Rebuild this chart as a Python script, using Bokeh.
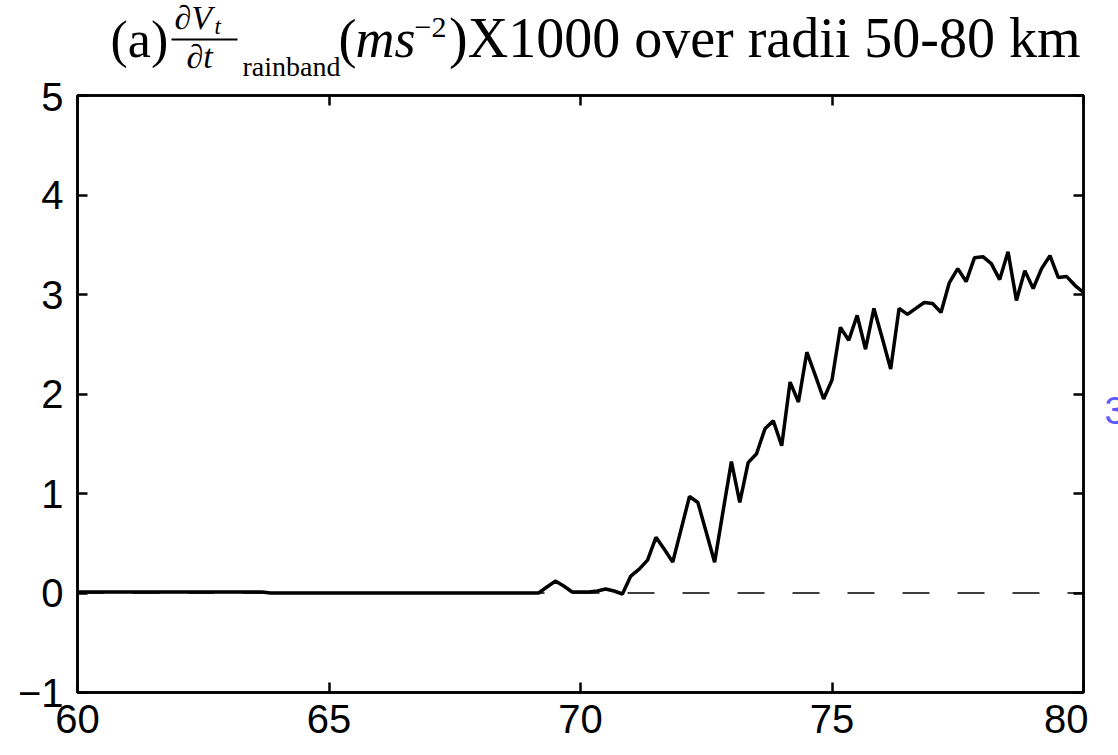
from bokeh.plotting import figure
from bokeh.layouts import column, row
from bokeh.models import Range1d, LinearAxis, FixedTicker, Span
from bokeh.core.properties import value
from bokeh.embed import file_html
from bokeh.resources import INLINE
import numpy as np

# ---- data -------------------------------------------------------------
x_ticks = [60, 65, 70, 75, 80]
y_ticks = [-1, 0, 1, 2, 3, 4, 5]
# time (h), sampled every 10 minutes from 60 to 80
time_h = np.linspace(60, 80, 121)
# dVt/dt (rainband) x1000, m s^-2
dvdt = [
    0.01, 0.01, 0.01, 0.01, 0.01, 0.01, 0.01, 0.01, 0.01, 0.01, 0.01, 0.01,
    0.01, 0.01, 0.01, 0.01, 0.01, 0.01, 0.01, 0.01, 0.01, 0.01, 0.01,
    0.0, 0.0, 0.0, 0.0, 0.0, 0.0, 0.0, 0.0, 0.0, 0.0, 0.0, 0.0, 0.0, 0.0,
    0.0, 0.0, 0.0, 0.0, 0.0, 0.0, 0.0, 0.0, 0.0, 0.0, 0.0, 0.0, 0.0, 0.0,
    0.0, 0.0, 0.0,
    0.0, 0.0, 0.06, 0.12, 0.07, 0.01, 0.01, 0.01, 0.02, 0.04, 0.02, -0.01,
    0.17, 0.24, 0.33, 0.56, 0.44, 0.31, 0.64, 0.97, 0.91, 0.61, 0.31, 0.82,
    1.32, 0.91, 1.31, 1.40, 1.65, 1.73, 1.48, 2.12, 1.92, 2.42, 2.19, 1.95,
    2.14, 2.67, 2.54, 2.79, 2.45, 2.86, 2.56, 2.25, 2.86, 2.80, 2.86, 2.92,
    2.91, 2.82, 3.12, 3.26, 3.13, 3.37, 3.38, 3.31, 3.15, 3.43, 2.94, 3.24,
    3.06, 3.26, 3.39, 3.17, 3.18, 3.09, 3.02,
]

# ---- layout numbers (pixels) -----------------------------------------
W = 1118
TITLE_H = 82
TOP_B = 13
BOT_B = 56
FL, FW, FH = 77, 1006, 597
RB = 5                    # right border of main figure
SIDE_W = W - FL - FW - RB

TICK_FONT = "Liberation Sans"
TICK_SIZE = "40px"

# ---- main plot --------------------------------------------------------
p = figure(frame_width=FW, frame_height=FH, title=None,
           x_range=Range1d(60, 80), y_range=Range1d(-1, 5),
           output_backend="svg", toolbar_location=None,
           min_border_left=FL, min_border_top=TOP_B, min_border_right=RB,
           min_border_bottom=BOT_B)
p.xgrid.visible = False
p.ygrid.visible = False
p.outline_line_color = "black"
p.outline_line_width = 2.5

p.add_layout(LinearAxis(), "above")
p.add_layout(LinearAxis(), "right")

for ax in p.xaxis:
    ax.ticker = FixedTicker(ticks=x_ticks)
for ax in p.yaxis:
    ax.ticker = FixedTicker(ticks=y_ticks)

for ax in p.axis:
    ax.axis_line_color = "black"
    ax.axis_line_width = 2.5
    ax.major_tick_in = 10
    ax.major_tick_out = 0
    ax.minor_tick_in = 0
    ax.minor_tick_out = 0
    ax.major_tick_line_width = 2.5
    ax.major_tick_line_color = "black"
    ax.major_label_text_font = TICK_FONT
    ax.major_label_text_font_size = TICK_SIZE
    ax.major_label_text_color = "black"

p.above[0].major_label_overrides = {t: "" for t in x_ticks}
p.above[0].major_label_standoff = 0
p.right[0].major_label_overrides = {t: "" for t in y_ticks}
p.right[0].major_label_standoff = 0
p.left[0].major_label_overrides = {-1: "\u22121"}
p.below[0].major_label_standoff = 12
p.left[0].major_label_standoff = 14

# zero reference line
p.add_layout(Span(location=0, dimension="width", line_color="black",
                  line_width=1.5, line_dash="27 28"))

p.line(time_h, dvdt, line_color="black", line_width=3.5)

# ---- title strip -----------------------------------------------------
t = figure(width=W, height=TITLE_H, title=None, x_range=Range1d(0, W),
           y_range=Range1d(TITLE_H, 0), output_backend="svg",
           toolbar_location=None, min_border=0, outline_line_color=None)
t.axis.visible = False
t.grid.visible = False

serif = value("Liberation Serif")

def ttext(tx, base, s, size, style="normal", align="left"):
    # 'base' is the wanted baseline in page pixels
    t.text(x=[tx], y=[base - 0.35 * size], text=[s], text_font=serif,
           text_font_size=value(f"{size}px"), text_font_style=style,
           text_align=align, text_baseline="alphabetic", text_color="black")

ttext(110, 57, "(a)", 52)
ttext(174, 29, "\u2202V", 34, "italic")
ttext(214, 34, "t", 23, "italic")
t.segment(x0=[171], y0=[39], x1=[237], y1=[39], line_color="black", line_width=2)
ttext(186, 68, "\u2202t", 34, "italic")
ttext(242, 76, "rainband", 28)
ttext(338, 57, "(", 54)
ttext(355, 57, "ms", 54, "italic")
ttext(414, 37, "\u22122", 30)
ttext(1080, 57, ")X1000 over radii 50-80 km", 56, align="right")

# ---- side strip with the partly visible blue label --------------------
s = figure(width=SIDE_W, height=TOP_B + FH + BOT_B, title=None,
           x_range=Range1d(0, SIDE_W),
           y_range=p.y_range, output_backend="svg", toolbar_location=None,
           min_border_left=0, min_border_right=0, min_border_top=TOP_B,
           min_border_bottom=BOT_B, outline_line_color=None)
s.axis.visible = False
s.grid.visible = False
s.text(x=[1104 - FL - FW - RB], y=[1.83], text=["3"],
       text_font=value("Liberation Sans"), text_font_size=value("38px"),
       text_align="left", text_baseline="alphabetic", text_color="#5a5aff")

layout = column(t, row(p, s, spacing=0), spacing=0)

open("out.html", "w").write(file_html(layout, INLINE))
